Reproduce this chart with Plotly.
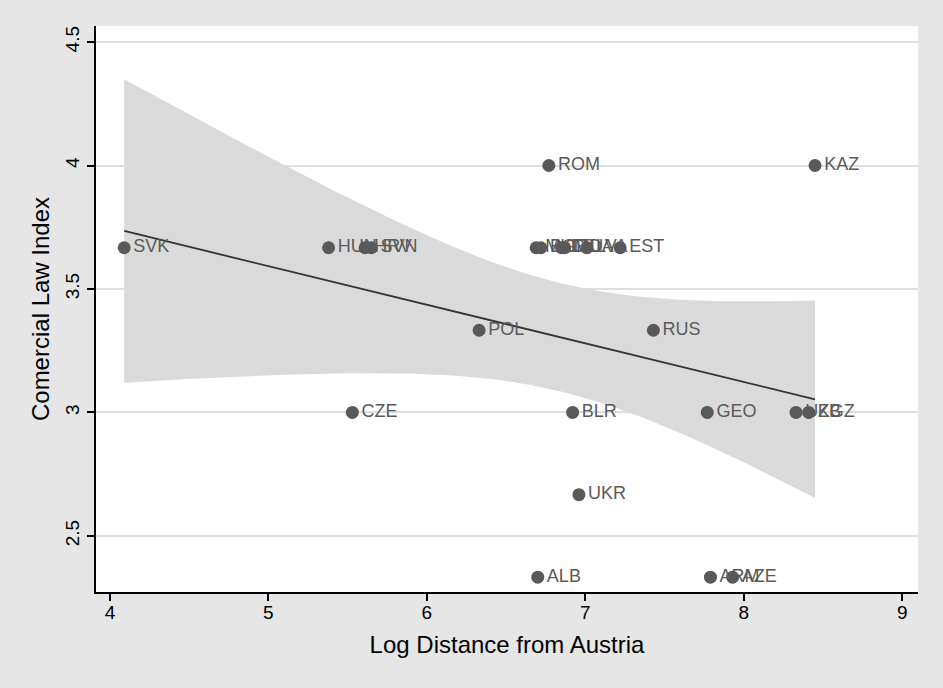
import numpy as np
import plotly.graph_objects as go

countries = ["SVK", "HUN", "HRV", "SVN", "CZE", "POL", "ROM", "MKD", "BGR", "LTU", "MDA", "LVA",
             "EST", "RUS", "BLR", "GEO", "UKR", "ALB", "ARM", "AZE", "KAZ", "UZB", "KGZ"]
log_distance = [4.09, 5.38, 5.61, 5.65, 5.53, 6.33, 6.77, 6.69, 6.72, 6.85, 6.87, 7.01,
                7.22, 7.43, 6.92, 7.77, 6.96, 6.70, 7.79, 7.93, 8.45, 8.33, 8.41]
law_index = [3.667, 3.667, 3.667, 3.667, 3.0, 3.333, 4.0, 3.667, 3.667, 3.667, 3.667, 3.667,
             3.667, 3.333, 3.0, 3.0, 2.667, 2.333, 2.333, 2.333, 4.0, 3.0, 3.0]

x = np.array(log_distance)
y = np.array(law_index)
n = len(x)
b, a = np.polyfit(x, y, 1)
resid = y - (a + b * x)
s = np.sqrt(np.sum(resid ** 2) / (n - 2))
xm = x.mean()
sxx = np.sum((x - xm) ** 2)
t = 2.0796  # t(0.975, 21)
xg = np.linspace(x.min(), x.max(), 100)
fit = a + b * xg
se = s * np.sqrt(1 / n + (xg - xm) ** 2 / sxx)
lo = fit - t * se
hi = fit + t * se

font = "Liberation Sans, Arial, sans-serif"

fig = go.Figure()
fig.add_trace(go.Scatter(x=np.concatenate([xg, xg[::-1]]), y=np.concatenate([hi, lo[::-1]]),
                         fill="toself", fillcolor="#dadada", line=dict(width=0),
                         mode="lines", hoverinfo="skip", showlegend=False))
fig.add_trace(go.Scatter(x=xg, y=fit, mode="lines", line=dict(color="#333333", width=1.8),
                         showlegend=False))
fig.add_trace(go.Scatter(x=x, y=y, mode="markers+text", text=countries,
                         textposition="middle right",
                         textfont=dict(family=font, size=18, color="#5a5a5a"),
                         marker=dict(size=13, color="#595959"), showlegend=False))

fig.update_layout(
    width=943, height=688,
    paper_bgcolor="#e6e6e6", plot_bgcolor="white",
    margin=dict(l=96, r=25, t=26, b=96),
    font=dict(family=font, size=19, color="black"),
)
fig.update_xaxes(range=[3.912, 9.10], tickvals=[4, 5, 6, 7, 8, 9], showgrid=False, zeroline=False,
                 showline=True, linecolor="black", linewidth=2, ticks="outside", ticklen=7,
                 tickwidth=2, tickcolor="black", tickfont=dict(size=19), ticklabelstandoff=-5,
                 title=dict(text="Log Distance from Austria", font=dict(size=24), standoff=14))
fig.update_yaxes(range=[2.273, 4.565], tickvals=[2.5, 3, 3.5, 4, 4.5], showgrid=True,
                 gridcolor="#dedede", gridwidth=1.5, zeroline=False,
                 showline=True, linecolor="black", linewidth=2, ticks="outside", ticklen=7,
                 tickwidth=2, tickcolor="black", tickangle=-90, tickfont=dict(size=19),
                 title=dict(text="Comercial Law Index", font=dict(size=24), standoff=6))
fig.write_html("out.html", config={"displayModeBar": False},
               post_script="document.body.style.margin='0';")
